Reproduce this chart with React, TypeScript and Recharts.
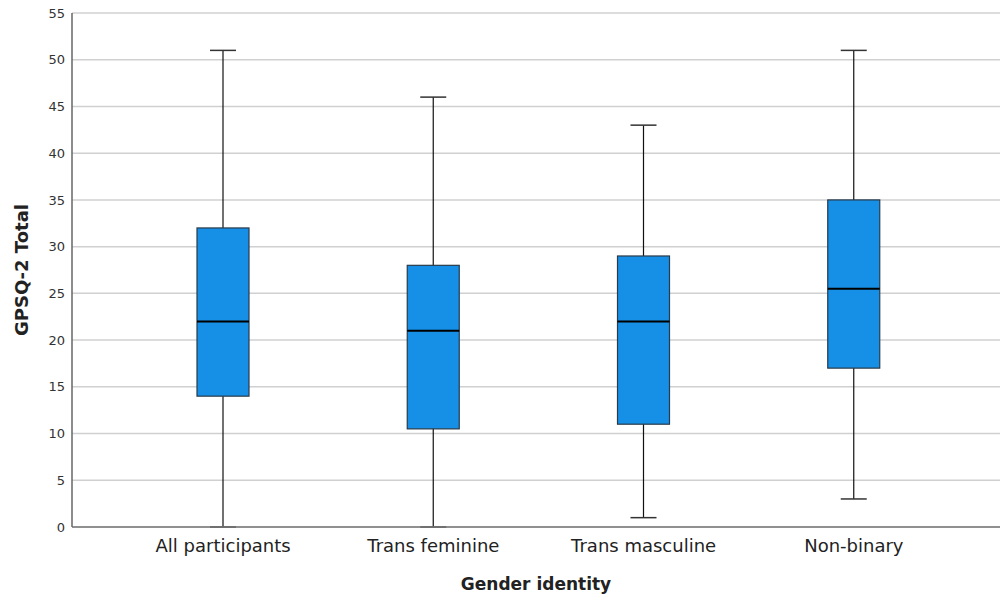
import { ComposedChart, Bar, XAxis, YAxis, CartesianGrid, Label } from 'recharts';

// Box plot data
const categories = ['All participants', 'Trans feminine', 'Trans masculine', 'Non-binary'];
const mins = [0, 0, 1, 3];
const q1s = [14, 10.5, 11, 17];
const medians = [22, 21, 22, 25.5];
const q3s = [32, 28, 29, 35];
const maxs = [51, 46, 43, 51];
const yTicks = [0, 5, 10, 15, 20, 25, 30, 35, 40, 45, 50, 55];

const data = categories.map((name, i) => ({
  name,
  min: mins[i],
  q1: q1s[i],
  median: medians[i],
  q3: q3s[i],
  max: maxs[i],
  range: [mins[i], maxs[i]],
}));

const FONT = '"DejaVu Sans", sans-serif';
const BOX_FILL = '#1590e6';

// draws whisker + box inside the range bar's rectangle
function BoxShape(props: any) {
  const { x, y, width, height, payload } = props;
  const { min, q1, median, q3, max } = payload;
  const perUnit = height / (max - min);
  const py = (v: number) => y + (max - v) * perUnit;
  const cx = x + width / 2;
  const cap = width / 4;
  return (
    <g>
      <line x1={cx} x2={cx} y1={py(max)} y2={py(min)} stroke="#111" strokeWidth={1.2} />
      <line x1={cx - cap} x2={cx + cap} y1={py(max)} y2={py(max)} stroke="#333" strokeWidth={1.5} />
      <line x1={cx - cap} x2={cx + cap} y1={py(min)} y2={py(min)} stroke="#333" strokeWidth={1.5} />
      <rect
        x={x}
        y={py(q3)}
        width={width}
        height={py(q1) - py(q3)}
        fill={BOX_FILL}
        stroke="#2a3a48"
        strokeWidth={1.2}
      />
      <line x1={x} x2={x + width} y1={py(median)} y2={py(median)} stroke="#000" strokeWidth={2} />
    </g>
  );
}

export default function App() {
  return (
    <div style={{ position: 'fixed', left: 0, top: 0, width: 1000, height: 599, background: '#fff' }}>
      <ComposedChart
        width={1000}
        height={599}
        data={data}
        margin={{ top: 13, right: 0, bottom: 0, left: 0 }}
      >
        <CartesianGrid vertical={false} stroke="#d0d0d0" strokeWidth={1.5} />
        <XAxis
          dataKey="name"
          height={72}
          padding={{ left: 46, right: 41 }}
          tickLine={false}
          tickSize={0}
          tickMargin={12}
          stroke="#777"
          strokeWidth={1.5}
          tick={{ fill: '#222', fontSize: 18, fontFamily: FONT }}
        >
          <Label
            value="Gender identity"
            position="insideBottom"
            offset={9}
            style={{ fontSize: 17, fontWeight: 'bold', fill: '#222', fontFamily: FONT }}
          />
        </XAxis>
        <YAxis
          width={72}
          domain={[0, 55]}
          ticks={yTicks}
          interval={0}
          tickLine={false}
          tickSize={0}
          tickMargin={7}
          stroke="#666"
          strokeWidth={1.5}
          tick={{ fill: '#333', fontSize: 13, fontFamily: FONT }}
        >
          <Label
            value="GPSQ-2 Total"
            angle={-90}
            position="insideLeft"
            offset={22}
            style={{ textAnchor: 'middle', fontSize: 18, fontWeight: 'bold', fill: '#222', fontFamily: FONT }}
          />
        </YAxis>
        <Bar dataKey="range" barSize={52} shape={<BoxShape />} isAnimationActive={false} />
      </ComposedChart>
    </div>
  );
}
